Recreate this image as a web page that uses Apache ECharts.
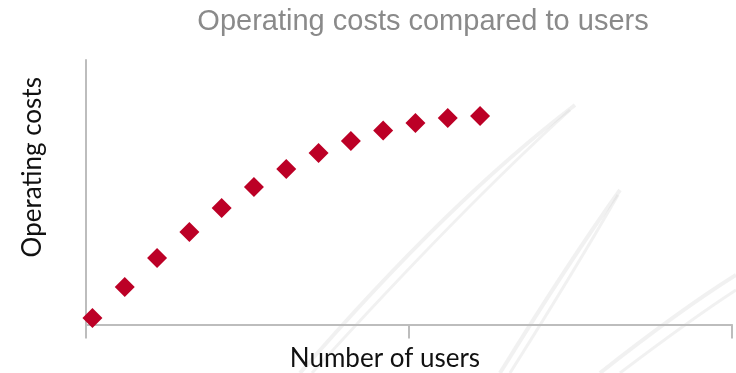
<!DOCTYPE html>
<html><head><meta charset="utf-8">
<script src="https://cdn.jsdelivr.net/npm/echarts@6/dist/echarts.min.js"></script>
<style>html,body{margin:0;padding:0;background:#fff}#c{width:736px;height:373px}</style>
</head><body><div id="c"></div>
<script>
const users = [0.2, 1.2, 2.2, 3.2, 4.2, 5.2, 6.2, 7.2, 8.2, 9.2, 10.2, 11.2, 12.2];
const costs = [2.5, 14.2, 25.1, 35.0, 44.0, 52.0, 58.8, 64.8, 69.4, 73.3, 76.2, 78.1, 78.8];
const titleText = 'Operating costs compared to users';
const xName = 'Number of users';
const yName = 'Operating costs';

const chart = echarts.init(document.getElementById('c'));
const swoosh = (x1,y1,cx,cy,x2,y2,w) => ({
  type:'bezierCurve', silent:true, z:-10,
  shape:{x1,y1,cpx1:cx,cpy1:cy,x2,y2},
  style:{stroke:'rgba(210,210,210,0.3)', lineWidth:w, fill:null}
});
chart.setOption({
  animation:false,
  title:{text:titleText, left:418, textAlign:'center', top:2,
    textStyle:{fontFamily:'Liberation Sans', fontWeight:'normal', fontSize:29, color:'#8a8a8a'}},
  graphic:[
    swoosh(300,373,450,200,575,105,4),
    swoosh(312,373,460,210,570,110,3),
    swoosh(500,373,570,260,620,190,4),
    swoosh(510,373,575,270,618,195,3),
    swoosh(600,373,680,310,736,275,4),
    swoosh(620,373,690,320,736,290,3)
  ],
  grid:{left:86, right:4, top:60, bottom:48.5, outerBoundsMode:'none', containLabel:false},
  xAxis:{type:'value', min:0, max:20, interval:10,
    name:xName, nameLocation:'middle', nameGap:21,
    nameTextStyle:{fontFamily:'Lato', fontSize:26, color:'#111', padding:[0,48,0,0], verticalAlign:'top'},
    axisLine:{show:true, lineStyle:{color:'#bdbdbd', width:2}},
    axisTick:{show:true, length:14, lineStyle:{color:'#bdbdbd', width:2}},
    axisLabel:{show:false}, splitLine:{show:false}},
  yAxis:{type:'value', min:0, max:100,
    name:yName, nameLocation:'middle', nameGap:40, nameRotate:90,
    nameTextStyle:{fontFamily:'Lato', fontSize:26, color:'#111', padding:[0,0,0,50]},
    axisLine:{show:true, lineStyle:{color:'#bdbdbd', width:2}},
    axisTick:{show:false}, axisLabel:{show:false}, splitLine:{show:false}},
  series:[{type:'scatter', data:users.map((u,i)=>[u,costs[i]]),
    symbol:'diamond', symbolSize:20, itemStyle:{color:'#BC0026', opacity:1}}]
});
</script></body></html>
